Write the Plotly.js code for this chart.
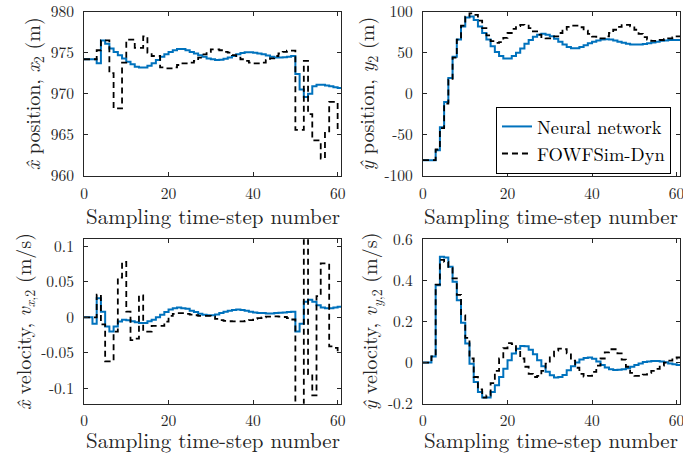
<!DOCTYPE html>
<html>
<head>
<meta charset="utf-8">
<script src="https://cdn.plot.ly/plotly-3.0.1.min.js"></script>
<style>
html,body{margin:0;padding:0;background:#fff;}
#chart{width:683px;height:453px;}
svg text{font-family:'Latin Modern Roman','Liberation Serif',serif !important;}
</style>
</head>
<body>
<div id="chart"></div>
<script>
// Sampling time-step numbers
const steps = [0,1,2,3,4,5,6,7,8,9,10,11,12,13,14,15,16,17,18,19,20,21,22,23,24,25,26,27,28,29,30,31,32,33,34,35,36,37,38,39,40,41,42,43,44,45,46,47,48,49,50,51,52,53,54,55,56,57,58,59,60,61];

// x-hat position x_2 (m)
const xPosNN = [974.2,974.2,974.2,973.7,976.5,976.1,975.5,975.1,974.7,974.3,973.9,973.6,973.3,973.2,973.2,973.4,973.7,974.1,974.5,974.8,975.1,975.3,975.45,975.45,975.3,975.1,974.9,974.7,974.5,974.3,974.2,974.1,974.15,974.25,974.4,974.6,974.8,974.95,975.05,975.05,975.0,974.9,974.8,974.65,974.5,974.4,974.4,974.45,974.5,974.6,972.4,970.5,969.6,970.0,970.9,971.1,971.1,971.0,970.9,970.8,970.7,970.6];
const xPosSim = [974.2,974.2,974.2,975.3,976.5,976.5,972.5,968.2,968.2,973.8,976.6,976.6,975.6,975.6,977.0,975.0,974.6,974.6,973.2,973.1,973.1,973.2,973.5,973.7,973.7,973.8,974.0,974.4,974.8,975.1,975.4,975.4,975.3,975.1,975.0,974.7,974.4,974.2,974.0,973.8,973.7,973.7,973.8,974.1,974.3,974.6,974.9,975.1,975.25,975.25,965.6,965.6,974.0,967.5,964.3,964.3,962.1,965.4,969.0,969.0,965.8,965.0];

// y-hat position y_2 (m)
const yPosNN = [-81,-81,-81,-69,-41,-10,19,45,66,82,93,94,90,82,74,66,58,51,46,43,43,46,50,55,61,65.5,69.5,72,73,72,70,67,63.5,60,57,55.5,55.5,57,59,61.5,63.5,65,66,66.5,66,65,63.5,62,61,60,60,60,60.5,61.5,62.5,63.5,64.5,65,65.5,65.5,65.5,65.5];
const yPosSim = [-81,-81,-81,-68,-42,-12,17,44,66,83,94,98,96,89,80,71,64,62,63,68,74,79,82.5,84,83,80,76,72,69,67.5,67.5,70,74,78,81.5,83,83,81,77,73,69.5,67.5,67.5,70,74,78,81.5,83.5,84,82,78,73,69,66,64.5,64.5,65.5,66.5,67.5,68.5,70,71];

// x-hat velocity v_{x,2} (m/s)
const vxNN = [0,0,-0.009,0.027,0.008,-0.013,-0.02,-0.013,-0.006,-0.0035,-0.004,-0.0055,-0.007,-0.008,-0.008,-0.0056,-0.0034,0,0.0036,0.0075,0.011,0.013,0.014,0.013,0.012,0.0095,0.0075,0.005,0.0036,0.003,0.003,0.004,0.006,0.008,0.0095,0.0105,0.011,0.0105,0.0095,0.008,0.007,0.006,0.006,0.0055,0.0055,0.006,0.0065,0.007,0.0075,0.008,-0.02,-0.009,0.022,0.025,0.022,0.017,0.014,0.013,0.013,0.014,0.015,0.016];
const vxSim = [0,0,0,0.032,-0.01,-0.062,-0.062,-0.02,0.056,0.078,0.008,-0.032,-0.03,0.031,-0.02,-0.02,-0.012,-0.012,-0.012,-0.006,0.002,0.005,0.006,0.006,0.005,0.004,0.003,0.002,0.002,0.002,0.001,-0.002,-0.004,-0.005,-0.0055,-0.0056,-0.0056,-0.0056,-0.005,-0.004,-0.002,-0.001,0,0.001,0.001,0.0015,0.001,0.0005,-0.001,-0.003,-0.16,-0.16,0.16,-0.08,-0.11,0.03,0.076,0.076,-0.041,-0.043,-0.048,-0.048];

// y-hat velocity v_{y,2} (m/s)
const vyNN = [0,0,0.03,0.377,0.515,0.512,0.467,0.394,0.304,0.194,0.093,-0.005,-0.094,-0.143,-0.17,-0.17,-0.143,-0.11,-0.07,-0.03,0.012,0.044,0.068,0.081,0.08,0.063,0.041,0.012,-0.018,-0.045,-0.061,-0.073,-0.07,-0.06,-0.037,-0.018,0,0.015,0.023,0.025,0.019,0.005,-0.011,-0.024,-0.032,-0.036,-0.035,-0.032,-0.027,-0.02,-0.011,-0.004,0.003,0.005,0.008,0.008,0.005,0.002,-0.004,-0.008,-0.011,-0.014];
const vySim = [0,0,0.03,0.38,0.5,0.49,0.46,0.41,0.33,0.23,0.12,0.02,-0.07,-0.13,-0.17,-0.16,-0.1,-0.04,0.02,0.07,0.095,0.09,0.06,0.02,-0.02,-0.055,-0.07,-0.065,-0.04,-0.005,0.03,0.058,0.068,0.065,0.045,0.01,-0.025,-0.055,-0.068,-0.065,-0.045,-0.015,0.02,0.05,0.065,0.065,0.045,0.015,-0.02,-0.05,-0.065,-0.065,-0.058,-0.05,-0.04,-0.03,-0.015,0,0.01,0.02,0.025,0.02];

// Tick labels
const xTicks = [0,20,40,60];
const xTickText = ['0','20','40','60'];
const yTicksXPos = [960,965,970,975,980];
const yTickTextXPos = ['960','965','970','975','980'];
const yTicksYPos = [-100,-50,0,50,100];
const yTickTextYPos = ['-100','-50','0','50','100'];
const yTicksVx = [-0.1,-0.05,0,0.05,0.1];
const yTickTextVx = ['-0.1','-0.05','0','0.05','0.1'];
const yTicksVy = [-0.2,0,0.2,0.4,0.6];
const yTickTextVy = ['-0.2','0','0.2','0.4','0.6'];

const seriesNames = ['Neural network','FOWFSim-Dyn'];
const xTitle = 'Sampling time-step number';

const FONT = 'Latin Modern Roman';
const AXC = '#262626';
const BLUE = '#0072BD';

function tracePair(xa, ya, nn, sim, legend) {
  return [
    {x: steps, y: nn, xaxis: xa, yaxis: ya, type: 'scatter', mode: 'lines',
     line: {shape: 'hv', color: BLUE, width: 2}, name: seriesNames[0], showlegend: legend},
    {x: steps, y: sim, xaxis: xa, yaxis: ya, type: 'scatter', mode: 'lines',
     line: {shape: 'hv', color: '#000000', width: 1.8, dash: '6px,4px'}, name: seriesNames[1], showlegend: legend}
  ];
}

const data = [].concat(
  tracePair('x', 'y', xPosNN, xPosSim, true),
  tracePair('x2', 'y2', yPosNN, yPosSim, false),
  tracePair('x3', 'y3', vxNN, vxSim, false),
  tracePair('x4', 'y4', vyNN, vySim, false)
);

function xAxis(domain, anchor, standoff) {
  return {domain: domain, anchor: anchor, range: [0, 60.8], tickmode: 'array',
    tickvals: xTicks, ticktext: xTickText, showline: true, mirror: 'ticks',
    linecolor: AXC, linewidth: 1, ticks: 'inside', ticklen: 4, tickcolor: AXC,
    showgrid: false, zeroline: false, ticklabelstandoff: standoff, ticklabeloverflow: 'allow',
    tickfont: {family: FONT, size: 15.5, color: AXC}};
}
function yAxis(domain, anchor, range, tv, tt, title) {
  return {domain: domain, anchor: anchor, range: range, tickmode: 'array',
    tickvals: tv, ticktext: tt, showline: true, mirror: 'ticks',
    linecolor: AXC, linewidth: 1, ticks: 'inside', ticklen: 4, tickcolor: AXC,
    showgrid: false, zeroline: false, ticklabelstandoff: 6, ticklabeloverflow: 'allow',
    tickfont: {family: FONT, size: 15.5, color: AXC},
    title: {text: title, font: {family: FONT, size: 20, color: AXC}, standoff: 4}};
}

const colL = [0.1230, 0.4993];
const colR = [0.6193, 0.9956];
const rowT = [0.6121, 0.9742];
const rowB = [0.1088, 0.4717];

function xTitleAnn(domain, yPaper) {
  return {text: xTitle, xref: 'paper', yref: 'paper', x: (domain[0] + domain[1]) / 2, y: yPaper,
    xanchor: 'center', yanchor: 'middle', showarrow: false, borderpad: 0,
    font: {family: FONT, size: 21, color: AXC}};
}

const layout = {
  width: 683, height: 453,
  margin: {l: 0, r: 0, t: 0, b: 0},
  paper_bgcolor: '#ffffff', plot_bgcolor: '#ffffff',
  font: {family: FONT, color: AXC},
  showlegend: true,
  legend: {x: 0.9824, xanchor: 'right', y: 0.764, yanchor: 'top',
    bgcolor: '#ffffff', bordercolor: '#000000', borderwidth: 1,
    tracegroupgap: 0,
    font: {family: FONT, size: 18.5, color: '#000000'}},
  annotations: [
    xTitleAnn(colL, 0.526), xTitleAnn(colR, 0.526),
    xTitleAnn(colL, 0.032), xTitleAnn(colR, 0.032)
  ],
  xaxis: xAxis(colL, 'y', 4),
  yaxis: yAxis(rowT, 'x', [960, 980], yTicksXPos, yTickTextXPos, '<i>x\u0302</i> position, <i>x</i><sub>2</sub> (m)'),
  xaxis2: xAxis(colR, 'y2', 4),
  yaxis2: yAxis(rowT, 'x2', [-100, 100], yTicksYPos, yTickTextYPos, '<i>\u0177</i> position, <i>y</i><sub>2</sub> (m)'),
  xaxis3: xAxis(colL, 'y3', 3),
  yaxis3: yAxis(rowB, 'x3', [-0.1217, 0.11], yTicksVx, yTickTextVx, '<i>x\u0302</i> velocity, <i>v</i><sub><i>x</i>,2</sub> (m/s)'),
  xaxis4: xAxis(colR, 'y4', 3),
  yaxis4: yAxis(rowB, 'x4', [-0.2, 0.6], yTicksVy, yTickTextVy, '<i>\u0177</i> velocity, <i>v</i><sub><i>y</i>,2</sub> (m/s)')
};

Plotly.newPlot('chart', data, layout, {displayModeBar: false, staticPlot: true});
</script>
</body>
</html>
